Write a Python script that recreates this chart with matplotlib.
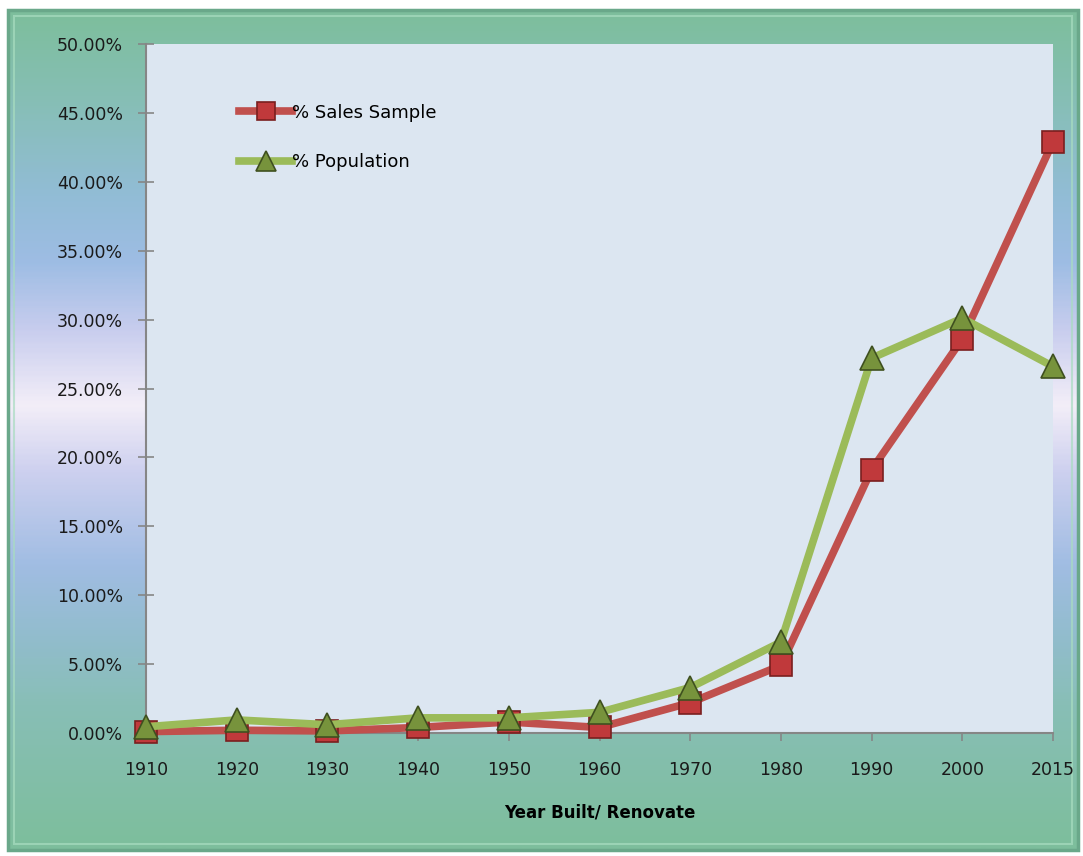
import numpy as np
import matplotlib
matplotlib.use("Agg")
import matplotlib.pyplot as plt
from matplotlib.colors import LinearSegmentedColormap
from matplotlib.patches import Rectangle

years = ["1910", "1920", "1930", "1940", "1950", "1960", "1970", "1980", "1990", "2000", "2015"]
sales_sample = [0.10, 0.20, 0.15, 0.40, 0.80, 0.40, 2.20, 4.90, 19.10, 28.60, 42.90]
population = [0.45, 0.95, 0.60, 1.10, 1.10, 1.50, 3.30, 6.60, 27.20, 30.10, 26.60]
yticks = [0, 5, 10, 15, 20, 25, 30, 35, 40, 45, 50]

W, H = 1083, 856
fig = plt.figure(figsize=(W / 100, H / 100), dpi=100)

# background gradient
bg = fig.add_axes([0, 0, 1, 1])
bg.set_xlim(0, W)
bg.set_ylim(H, 0)
bg.axis("off")
stops = [(0.0, "#7dbe9c"), (0.10, "#86bfb4"), (0.22, "#92bcd6"), (0.30, "#9ebde4"),
         (0.38, "#c8cdee"), (0.47, "#f3eef8"), (0.55, "#cdd0ef"), (0.66, "#a1bde3"),
         (0.74, "#93bccf"), (0.83, "#88bfb6"), (1.0, "#7dbe9c")]
cmap = LinearSegmentedColormap.from_list("bgc", stops)
grad = np.linspace(0, 1, 400).reshape(-1, 1)
bg.add_patch(Rectangle((0, 0), W, H, color="white", zorder=0))
bg.imshow(grad, cmap=cmap, aspect="auto", extent=(8, 1078, 850, 10), zorder=1)
bg.add_patch(Rectangle((8, 10), 1070, 840, fill=False, ec="#6aa88a", lw=2.5, zorder=2))
bg.add_patch(Rectangle((14, 16), 1058, 828, fill=False, ec="#a8dcc0", lw=1.5, alpha=0.7, zorder=2))

# plot area
left, right, top, bottom = 146, 1053, 44, 733
ax = fig.add_axes([left / W, 1 - bottom / H, (right - left) / W, (bottom - top) / H])
ax.set_facecolor("#dce6f1")
x = np.arange(len(years))
ax.plot(x, sales_sample, color="#c0504d", lw=5.5, marker="s", markersize=16,
        markerfacecolor="#c0393b", markeredgecolor="#7a1f1f", markeredgewidth=1.2,
        label="% Sales Sample", zorder=3, clip_on=False)
ax.plot(x, population, color="#9bbb59", lw=5.5, marker="^", markersize=17,
        markerfacecolor="#77933c", markeredgecolor="#3f5020", markeredgewidth=1.2,
        label="% Population", zorder=4, clip_on=False)

ax.set_xlim(0, len(years) - 1)
ax.set_ylim(0, 50)
ax.set_yticks(yticks)
ax.set_yticklabels([f"{v:.2f}%" for v in yticks], fontsize=12.5, color="#1a1a1a")
ax.set_xticks(x)
ax.set_xticklabels(years, fontsize=12.5, color="#1a1a1a")
for s in ["top", "right"]:
    ax.spines[s].set_visible(False)
for s in ["left", "bottom"]:
    ax.spines[s].set_color("#868686")
    ax.spines[s].set_linewidth(1.5)
ax.tick_params(axis="y", direction="inout", length=11, width=1.2, color="#868686", pad=11)
ax.tick_params(axis="x", direction="out", length=6, width=1.2, color="#868686", pad=14)
ax.set_xlabel("Year Built/ Renovate", fontsize=12, fontweight="bold", labelpad=18)

leg = ax.legend(loc="upper left", bbox_to_anchor=(0.085, 0.937), frameon=False,
                fontsize=13, handlelength=2.9, handletextpad=0.0, labelspacing=1.75,
                markerscale=0.85)

fig.savefig("out.png", dpi=100)
